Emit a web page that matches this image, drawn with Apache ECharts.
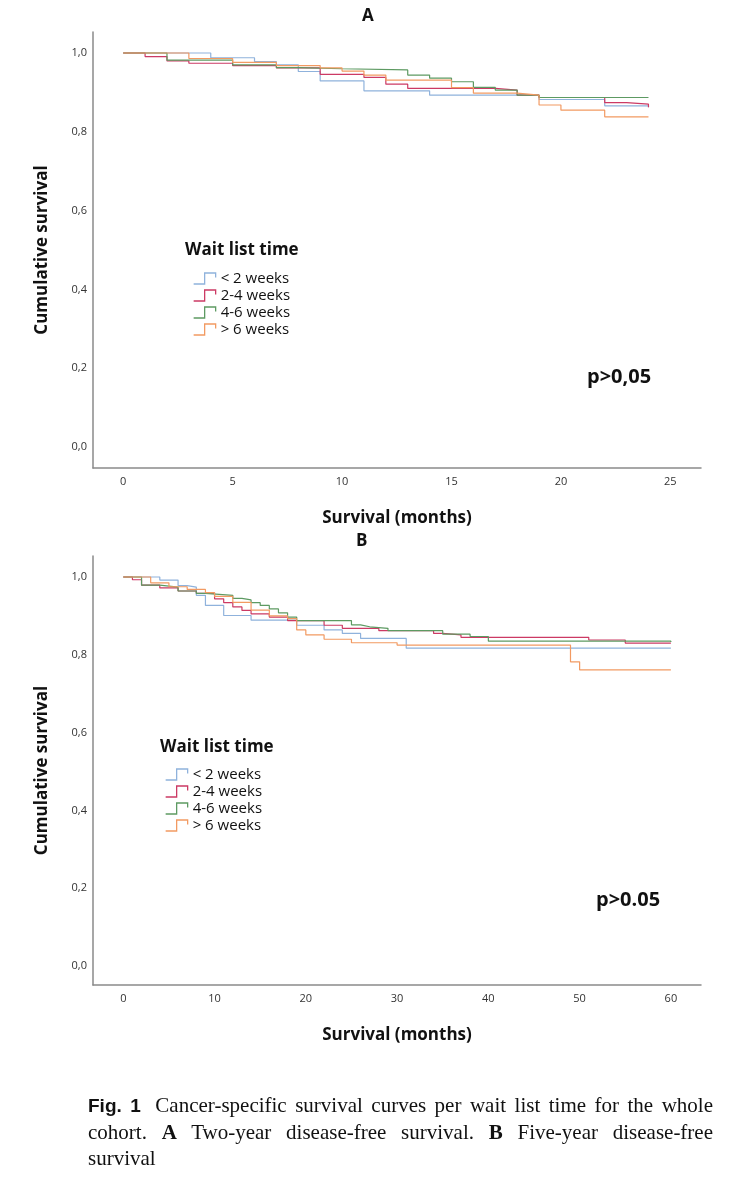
<!DOCTYPE html>
<html>
<head>
<meta charset="utf-8">
<script src="https://cdn.jsdelivr.net/npm/echarts@6/dist/echarts.min.js"></script>
<style>
  html, body { margin: 0; padding: 0; background: #fff; }
  #chart { position: absolute; left: 0; top: 0; width: 750px; height: 1182px; }
  #caption {
    position: absolute; left: 88px; top: 1092px; width: 625px;
    font-family: "Liberation Serif", "DejaVu Serif", serif; font-size: 21px;
    line-height: 26px; color: #111;
  }
  #caption .ln { text-align: justify; text-align-last: justify; white-space: nowrap; }
  #caption .last { text-align: left; }
  #caption .fig { font-family: "Liberation Sans", "DejaVu Sans", sans-serif; font-weight: bold; font-size: 19px; margin-right: 6px; }
</style>
</head>
<body>
<div id="chart"></div>
<div id="caption">
  <div class="ln"><span class="fig">Fig. 1</span> Cancer-specific survival curves per wait list time for the whole</div>
  <div class="ln">cohort. <b>A</b> Two-year disease-free survival. <b>B</b> Five-year disease-free</div>
  <div class="last">survival</div>
</div>
<script>
// ---- Data (Kaplan-Meier steps: [month, cumulative survival]) ----
const groups = ['< 2 weeks', '2-4 weeks', '4-6 weeks', '> 6 weeks'];
const groupColors = ['#8fb2dc', '#cc3a64', '#5d9a62', '#f29a62'];

const xTicksA = [0, 5, 10, 15, 20, 25];
const xTicksB = [0, 10, 20, 30, 40, 50, 60];
const yTicks = [0, 0.2, 0.4, 0.6, 0.8, 1.0];

// Panel A: two-year
const blueA = [[0,1],[4,0.988],[6,0.978],[7,0.970],[8,0.953],[9,0.929],[11,0.904],[14,0.893],[19,0.882],[22,0.866],[24,0.862]];
const redA = [[0,1],[1,0.991],[2,0.980],[3,0.974],[5,0.968],[7,0.962],[9,0.946],[11,0.938],[12,0.921],[13,0.910],[17,0.906],[18,0.893],[19,0.887],[22,0.874],[23,0.870],[24,0.862]];
const greenA = [[0,1],[2,0.982],[5,0.970],[7,0.963],[8,0.960],[10,0.957],[13,0.944],[14,0.936],[15,0.927],[16,0.913],[17,0.906],[18,0.893],[19,0.887],[24,0.887]];
const orangeA = [[0,1],[3,0.986],[5,0.976],[7,0.968],[9,0.962],[10,0.954],[11,0.944],[12,0.931],[15,0.912],[16,0.898],[18,0.893],[19,0.868],[20,0.855],[22,0.838],[24,0.838]];

// Panel B: five-year
const blueB = [[0,1],[4,0.992],[6,0.978],[7,0.974],[8,0.953],[9,0.927],[11,0.901],[14,0.889],[19,0.876],[22,0.864],[24,0.855],[26,0.842],[31,0.817],[60,0.817]];
const redB = [[0,1],[1,0.993],[2,0.979],[4,0.972],[6,0.964],[8,0.958],[10,0.944],[11,0.934],[12,0.923],[13,0.914],[14,0.905],[16,0.897],[18,0.888],[22,0.876],[24,0.868],[28,0.862],[34,0.855],[35,0.851],[37,0.845],[51,0.838],[55,0.830],[60,0.830]];
const greenB = [[0,1],[2,0.979],[4,0.974],[6,0.964],[8,0.958],[9,0.953],[12,0.945],[13,0.941],[14,0.934],[15,0.927],[16,0.918],[17,0.908],[18,0.897],[19,0.888],[25,0.877],[26,0.872],[27,0.868],[29,0.862],[35,0.853],[38,0.847],[40,0.835],[60,0.833]];
const orangeB = [[0,1],[3,0.985],[5,0.975],[7,0.968],[9,0.960],[10,0.950],[12,0.935],[14,0.915],[16,0.900],[18,0.893],[19,0.864],[20,0.851],[22,0.840],[25,0.831],[30,0.825],[49,0.782],[50,0.761],[60,0.761]];

const panelA = [blueA, redA, greenA, orangeA];
const panelB = [blueB, redB, greenB, orangeB];

// ---- Chart ----
const chart = echarts.init(document.getElementById('chart'), null, { renderer: 'canvas' });
const FONT = '"Open Sans", "DejaVu Sans", sans-serif';
const stepIcon = 'path://M0,10 L10,10 L10,0 L20,0 L20,4';

function xAxis(gridIndex, min, max, ticks) {
  return {
    type: 'value', gridIndex, min, max,
    name: 'Survival (months)', nameLocation: 'middle', nameGap: 42,
    nameTextStyle: { fontFamily: FONT, fontWeight: 'bold', fontSize: 17, color: '#111' },
    axisLine: { show: true, onZero: false, lineStyle: { color: '#8a8a8a', width: 1.5 } },
    axisTick: { show: false },
    splitLine: { show: false },
    axisLabel: { customValues: ticks, margin: 8, fontFamily: FONT, fontSize: 11, color: '#333' }
  };
}
function yAxis(gridIndex, min, max) {
  return {
    type: 'value', gridIndex, min, max,
    name: 'Cumulative survival', nameLocation: 'middle', nameGap: 42, nameRotate: 90,
    nameTextStyle: { fontFamily: FONT, fontWeight: 'bold', fontSize: 17, color: '#111' },
    axisLine: { show: true, onZero: false, lineStyle: { color: '#8a8a8a', width: 1.5 } },
    axisTick: { show: false },
    splitLine: { show: false },
    axisLabel: {
      customValues: yTicks, margin: 6, fontFamily: FONT, fontSize: 11, color: '#333',
      formatter: v => v.toFixed(1).replace('.', ',')
    }
  };
}
function legend(left, top) {
  return {
    orient: 'vertical', left, top, itemGap: 0, itemWidth: 22, itemHeight: 11,
    selectedMode: false, padding: 0,
    textStyle: { fontFamily: FONT, fontSize: 15, color: '#111', lineHeight: 17 },
    data: groups.map((g, i) => ({
      name: g, icon: stepIcon,
      itemStyle: { color: 'rgba(0,0,0,0)', borderColor: groupColors[i], borderWidth: 1.3 }
    }))
  };
}
function series(data, idx) {
  return data.map((d, i) => ({
    name: groups[i], type: 'line', step: 'end', xAxisIndex: idx, yAxisIndex: idx,
    data: d, showSymbol: false, silent: true, animation: false,
    lineStyle: { color: groupColors[i], width: 1.2 },
    itemStyle: { color: groupColors[i] }
  }));
}

const titleStyle = { fontFamily: FONT, fontWeight: 'bold', fontSize: 17, color: '#111' };

chart.setOption({
  animation: false,
  title: [
    { text: 'A', left: 362, top: 8, textStyle: { ...titleStyle, fontSize: 17 }, padding: 0 },
    { text: 'B', left: 356, top: 533, textStyle: { ...titleStyle, fontSize: 17 }, padding: 0 },
    { text: 'Wait list time', left: 185, top: 242, textStyle: titleStyle, padding: 0 },
    { text: 'Wait list time', left: 160, top: 739, textStyle: titleStyle, padding: 0 },
    { text: 'p>0,05', left: 587, top: 367, textStyle: { ...titleStyle, fontSize: 20 }, padding: 0 },
    { text: 'p>0.05', left: 596, top: 890, textStyle: { ...titleStyle, fontSize: 20 }, padding: 0 }
  ],
  legend: [legend(193, 270), legend(165, 766)],
  grid: [
    { left: 93, top: 32, width: 608, height: 436, containLabel: false },
    { left: 93, top: 556, width: 608, height: 429, containLabel: false }
  ],
  xAxis: [xAxis(0, -1.38, 26.4, xTicksA), xAxis(1, -3.32, 63.3, xTicksB)],
  yAxis: [yAxis(0, -0.0533, 1.0533), yAxis(1, -0.049, 1.054)],
  series: [...series(panelA, 0), ...series(panelB, 1)]
});
</script>
</body>
</html>
